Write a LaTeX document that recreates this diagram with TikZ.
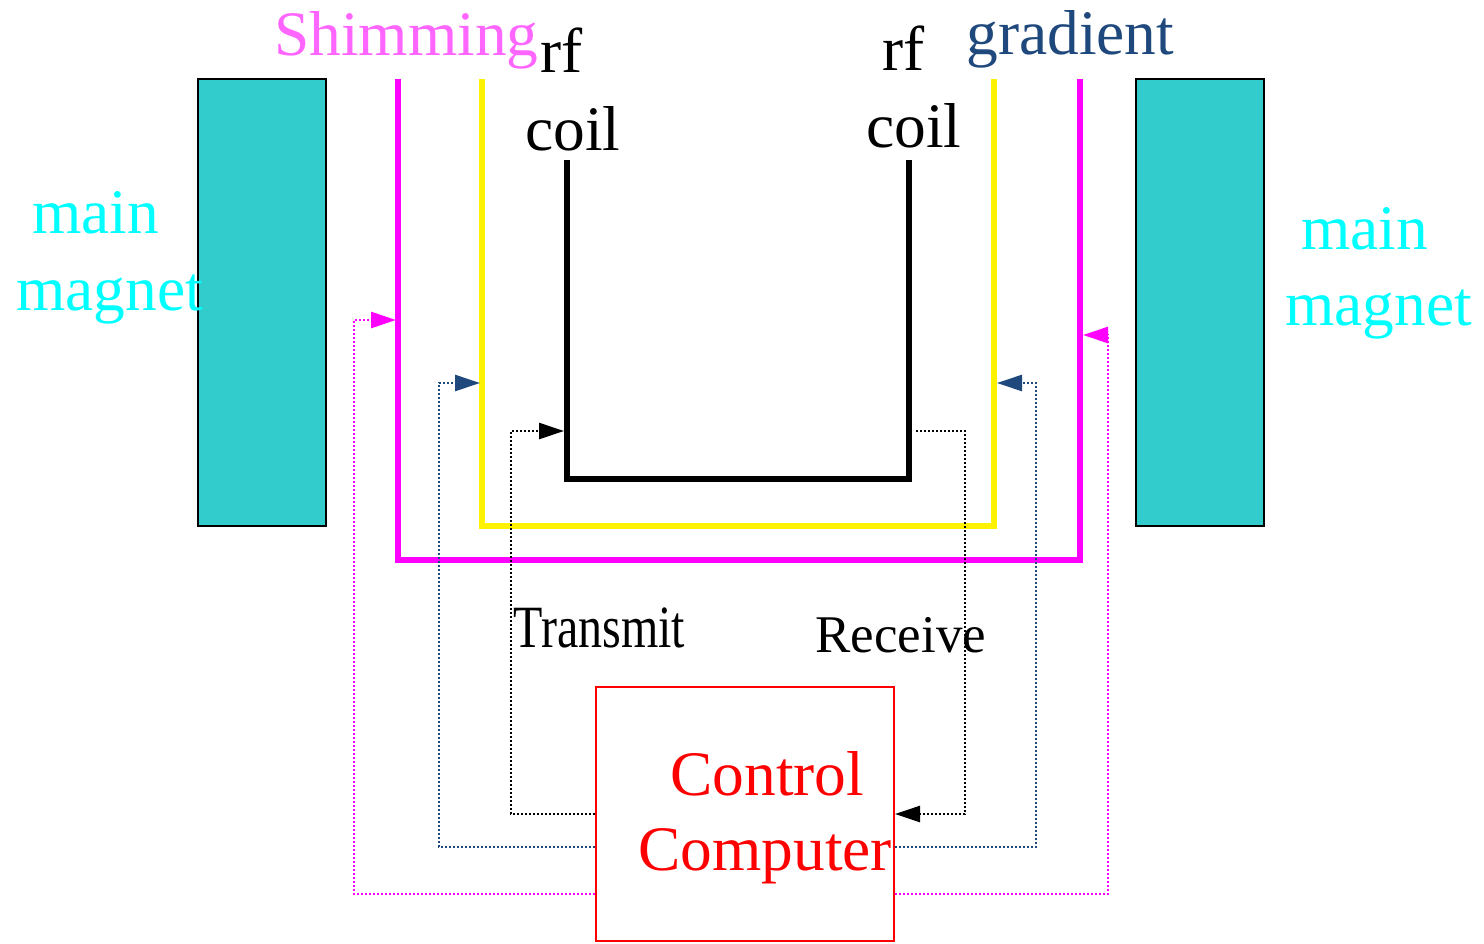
\documentclass[tikz,border=0pt]{standalone}
\usepackage{fontspec}
\setmainfont{Liberation Serif}
\usetikzlibrary{arrows.meta}
\definecolor{magnetfill}{HTML}{33CCCC}
\definecolor{shimcol}{HTML}{FF00FF}
\definecolor{shimtext}{HTML}{FF66FF}
\definecolor{gradcol}{HTML}{1F497D}
\definecolor{magtext}{HTML}{00FFFF}
\tikzset{
  big/.style={anchor=base west, inner sep=0pt, font=\fontsize{31.7}{37.5}\selectfont},
  coilline/.style={line width=3pt, line join=miter},
  sig/.style={line width=1.3pt, dash pattern=on 1.1pt off 0.9pt, -{Triangle[length=12.5pt,width=8pt]}},
  magnetbox/.style={fill=magnetfill, draw=black, line width=1pt}
}
\begin{document}
\begin{tikzpicture}[x=0.5pt,y=-0.5pt]
\useasboundingbox (0,0) rectangle (1484,943);
\fill[white] (0,0) rectangle (1484,943);
\draw[magnetbox] (198,79) rectangle (326,526);
\draw[magnetbox] (1136,79) rectangle (1264,526);
\draw[coilline, shimcol] (398,79) -- (398,560) -- (1080,560) -- (1080,79);
\draw[coilline, yellow] (482,79) -- (482,526) -- (994,526) -- (994,79);
\draw[coilline, black] (567,160) -- (567,479) -- (909,479) -- (909,160);
\coordinate (shimL) at (396,320);
\coordinate (shimR) at (1083,335);
\coordinate (gradL) at (480,383);
\coordinate (gradR) at (997,383);
\coordinate (rfTx) at (564,431);
\coordinate (rfRx) at (916,431);
\node[draw=red, line width=1pt, minimum width=149pt, minimum height=127pt, inner sep=0pt] (comp) at (745,814) {};
\node[big, red] (ctrl) at (670,795) {Control};
\node[big, red] (cpu) at (638,870) {Computer};
\draw[sig, black] (comp.west) -| (511,431) -- (rfTx);
\draw[sig, gradcol] ([yshift=-16.5pt]comp.west) -| (439,383) -- (gradL);
\draw[sig, shimcol] ([yshift=-40pt]comp.west) -| (354,320) -- (shimL);
\draw[sig, black] (rfRx) -| (965,814) -- (comp.east);
\draw[sig, gradcol] ([yshift=-16.5pt]comp.east) -| (1036,383) -- (gradR);
\draw[sig, shimcol] ([yshift=-40pt]comp.east) -| (1108,335) -- (shimR);
\node[big, shimtext] (shimlabel) at (274,55) {Shimming};
\node[big] (rfLa) at (540,72) {rf};
\node[big] (rfLb) at (525,150) {coil};
\node[big] (rfRa) at (882,70) {rf};
\node[big] (rfRb) at (866,147) {coil};
\node[big, gradcol] (gradlabel) at (966,54) {gradient};
\node[big, magtext] (magLa) at (32,233) {main};
\node[big, magtext] (magLb) at (16,310) {magnet};
\node[big, magtext] (magRa) at (1301,249) {main};
\node[big, magtext] (magRb) at (1285,325) {magnet};
\node[anchor=base west, inner sep=0pt, font=\fontsize{30}{30}\selectfont] (tx) at (513,647) {\scalebox{0.8}[1]{Transmit}};
\node[anchor=base west, inner sep=0pt, font=\fontsize{26.5}{30}\selectfont] (rx) at (815,652) {Receive};
\end{tikzpicture}
\end{document}
